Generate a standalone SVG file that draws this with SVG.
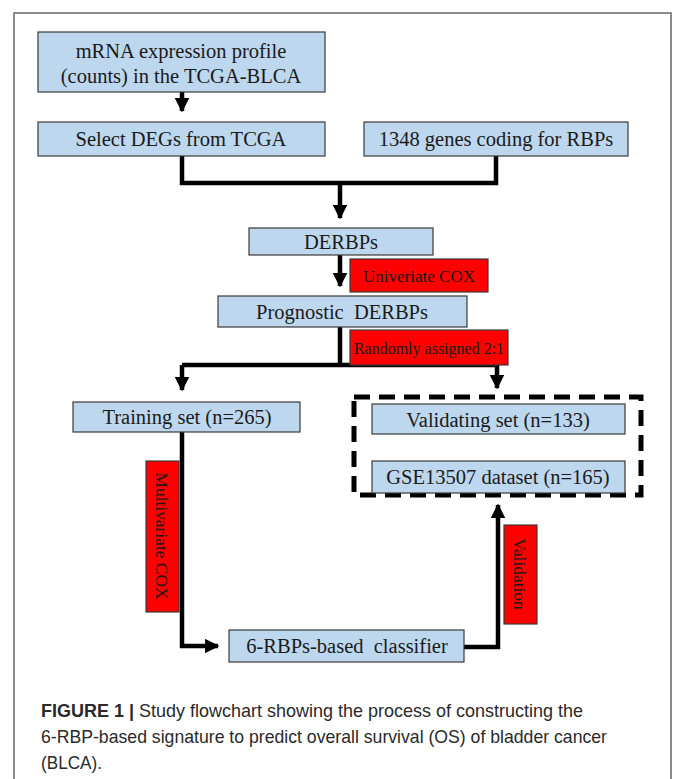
<svg xmlns="http://www.w3.org/2000/svg" width="673" height="779" viewBox="0 0 673 779">
<defs>
<style>
.box{fill:#bdd7ee;stroke:#3a3a3a;stroke-width:1.2}
.red{fill:#ff0000;stroke:#3a3a3a;stroke-width:1.2}
.t{font-family:"Liberation Serif","Times New Roman",serif;font-size:20.5px;fill:#1a1a1a;text-anchor:middle}
.c{fill:none;stroke:#000;stroke-width:4.5}
.cap{font-family:"Liberation Sans",Arial,sans-serif;font-size:19px;fill:#2a2a2a}
</style>
<marker id="ah" viewBox="0 0 10 10" refX="9" refY="5" markerWidth="3.2" markerHeight="3.2" orient="auto" markerUnits="strokeWidth">
<path d="M0,0 L10,5 L0,10 z" fill="#000"/>
</marker>
</defs>
<rect x="14" y="13" width="657" height="790" fill="none" stroke="#666" stroke-width="1.5"/>
<g id="connectors">
<path class="c" d="M182,92 V111" marker-end="url(#ah)"/>
<path class="c" d="M182,156 V183 H496 V156"/>
<path class="c" d="M340,183 V218" marker-end="url(#ah)"/>
<path class="c" d="M340,255 V286" marker-end="url(#ah)"/>
<path class="c" d="M340,327 V365"/>
<path class="c" d="M182,365 H497"/>
<path class="c" d="M182,365 V390" marker-end="url(#ah)"/>
<path class="c" d="M497,365 V388" marker-end="url(#ah)"/>
<path class="c" d="M182,432 V646 H218" marker-end="url(#ah)"/>
<path class="c" d="M464,647 H498 V505" marker-end="url(#ah)"/>
</g>
<g id="dashed-group">
<rect x="354" y="397" width="287" height="98" fill="none" stroke="#000" stroke-width="5" stroke-dasharray="16,9"/>
</g>
<g id="n-mrna">
<rect class="box" x="38" y="32" width="287" height="60"/>
<text class="t" x="181" y="58">mRNA expression profile</text>
<text class="t" x="181" y="83">(counts) in the TCGA-BLCA</text>
</g>
<g id="n-deg">
<rect class="box" x="38" y="122" width="287" height="34"/>
<text class="t" x="181" y="146">Select DEGs from TCGA</text>
</g>
<g id="n-rbp">
<rect class="box" x="364" y="122" width="264" height="34"/>
<text class="t" x="496" y="146">1348 genes coding for RBPs</text>
</g>
<g id="n-derbps">
<rect class="box" x="249" y="228" width="184" height="27"/>
<text class="t" x="341" y="249">DERBPs</text>
</g>
<g id="l-univ">
<rect class="red" x="350" y="259" width="138" height="33"/>
<text class="t" x="419" y="282" style="font-size:17px">Univeriate COX</text>
</g>
<g id="n-prog">
<rect class="box" x="218" y="296" width="249" height="31"/>
<text class="t" x="342" y="319" xml:space="preserve">Prognostic  DERBPs</text>
</g>
<g id="l-random">
<rect class="red" x="350" y="330" width="158" height="35"/>
<text class="t" x="429" y="354" style="font-size:16px">Randomly assigned 2:1</text>
</g>
<g id="n-train">
<rect class="box" x="73" y="402" width="227" height="30"/>
<text class="t" x="187" y="424">Training set (n=265)</text>
</g>
<g id="n-valid">
<rect class="box" x="372" y="404" width="253" height="30"/>
<text class="t" x="498" y="427">Validating set (n=133)</text>
</g>
<g id="n-gse">
<rect class="box" x="372" y="461" width="253" height="32"/>
<text class="t" x="498" y="484">GSE13507 dataset (n=165)</text>
</g>
<g id="l-multi">
<rect class="red" x="146" y="461" width="33" height="151"/>
<text class="t" transform="translate(156,536) rotate(90)" style="font-size:17.4px">Multivariate COX</text>
</g>
<g id="n-classifier">
<rect class="box" x="229" y="630" width="235" height="32"/>
<text class="t" x="347" y="653" xml:space="preserve">6-RBPs-based  classifier</text>
</g>
<g id="l-valid">
<rect class="red" x="504" y="525" width="33" height="99"/>
<text class="t" transform="translate(514,574) rotate(90)" style="font-size:17.4px">Validation</text>
</g>
<g id="caption">
<text class="cap" x="41" y="717" textLength="542" lengthAdjust="spacingAndGlyphs"><tspan font-weight="bold">FIGURE 1 |</tspan> Study flowchart showing the process of constructing the</text>
<text class="cap" x="41" y="743" textLength="566" lengthAdjust="spacingAndGlyphs">6-RBP-based signature to predict overall survival (OS) of bladder cancer</text>
<text class="cap" x="41" y="769" textLength="61" lengthAdjust="spacingAndGlyphs">(BLCA).</text>
</g>
</svg>
